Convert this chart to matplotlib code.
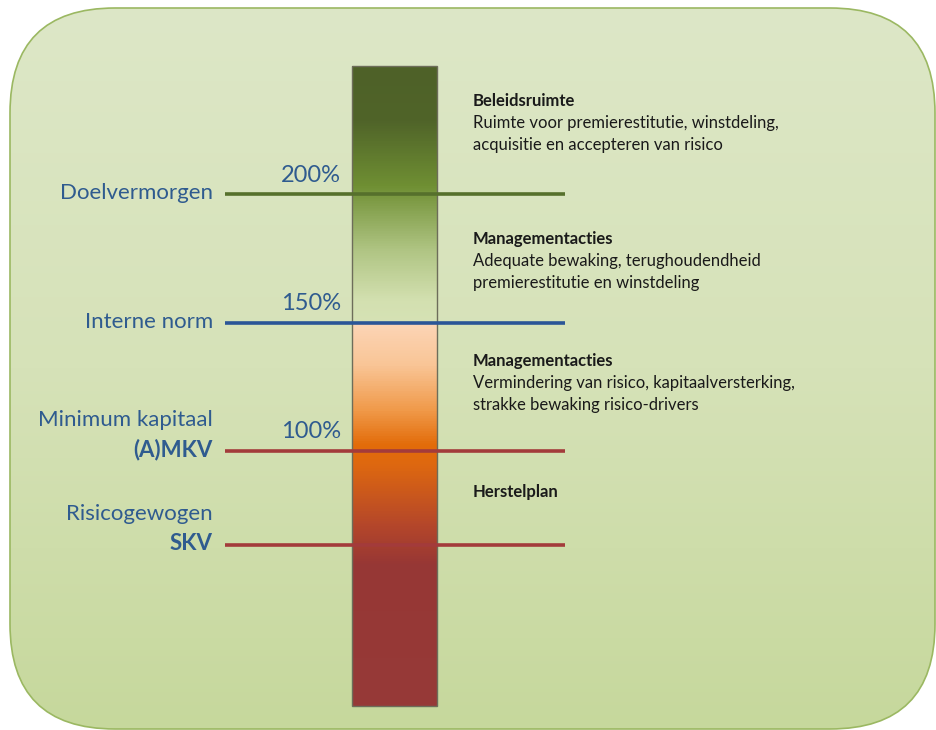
import matplotlib.pyplot as plt
import numpy as np
from matplotlib.colors import LinearSegmentedColormap
from matplotlib.patches import FancyBboxPatch, Rectangle

# Threshold levels (pixel rows in the drawing canvas) and their labels
levels = [194, 323, 451, 545]
level_colors = ["#56702c", "#2a5597", "#a33b3b", "#a33b3b"]
pct_labels = ["200%", "150%", "100%", ""]
left_titles = ["Doelvermorgen", "Interne norm", "Minimum kapitaal", "Risicogewogen"]
left_bold = ["", "", "(A)MKV", "SKV"]

# Zone descriptions on the right
zone_titles = ["Beleidsruimte", "Managementacties", "Managementacties", "Herstelplan"]
zone_texts = [
    "Ruimte voor premierestitutie, winstdeling,\nacquisitie en accepteren van risico",
    "Adequate bewaking, terughoudendheid\npremierestitutie en winstdeling",
    "Vermindering van risico, kapitaalversterking,\nstrakke bewaking risico-drivers",
    "",
]
zone_title_y = [101, 239, 361, 492]

# Colour stops along the thermometer bar (row, colour)
bar_stops = [(66, "#4e6128"), (120, "#506429"), (185, "#6f8f33"), (250, "#b0c584"),
             (300, "#d3e0b0"), (322, "#d6e2b5"), (324, "#fcd5b6"), (365, "#f9c596"),
             (410, "#f09a4a"), (445, "#e36c0a"), (465, "#de6810"), (525, "#b5472a"),
             (565, "#973735"), (706, "#963a38")]

W, H = 937, 730
fig = plt.figure(figsize=(W / 100, H / 100), dpi=100)
ax = fig.add_axes([0, 0, 1, 1])
ax.set_xlim(0, W)
ax.set_ylim(H, 0)
ax.axis("off")
fig.patch.set_facecolor("white")

# Rounded background panel with vertical gradient
panel = FancyBboxPatch((10, 8), 925, 721, boxstyle="round,pad=0,rounding_size=105",
                       facecolor="none", edgecolor="#9bb862", linewidth=1.2, zorder=2)
ax.add_patch(panel)
bg_cmap = LinearSegmentedColormap.from_list("bg", ["#dde7c7", "#d6e2b8", "#c6d89c"])
bg = ax.imshow(np.linspace(0, 1, 256).reshape(-1, 1), cmap=bg_cmap, aspect="auto",
               extent=(10, 935, 729, 8), zorder=1)
bg.set_clip_path(panel)

# Thermometer bar
top, bottom = bar_stops[0][0], bar_stops[-1][0]
pos = [(r - top) / (bottom - top) for r, _ in bar_stops]
bar_cmap = LinearSegmentedColormap.from_list("bar", list(zip(pos, [c for _, c in bar_stops])))
ax.imshow(np.linspace(0, 1, 512).reshape(-1, 1), cmap=bar_cmap, aspect="auto",
          extent=(352, 437, bottom, top), zorder=3)
ax.add_patch(Rectangle((352, top), 85, bottom - top, fill=False,
                       edgecolor="#6d6d5a", linewidth=1.0, zorder=4))

font = "Lato"
blue = "#2f5b8f"

for y, c, pct, title, bold in zip(levels, level_colors, pct_labels, left_titles, left_bold):
    ax.plot([225, 565], [y, y], color=c, linewidth=2.6, zorder=5, solid_capstyle="butt")
    if pct:
        ax.text(341, y - 19, pct, ha="right", va="center", fontsize=17,
                color=blue, family=font)
    if bold:
        ax.text(213, y - 31, title, ha="right", va="center", fontsize=16,
                color=blue, family=font)
        ax.text(213, y - 1, bold, ha="right", va="center", fontsize=16,
                color=blue, family=font, fontweight="bold")
    else:
        ax.text(213, y - 1, title, ha="right", va="center", fontsize=16,
                color=blue, family=font)

for ty, title, txt in zip(zone_title_y, zone_titles, zone_texts):
    ax.text(473, ty, title, ha="left", va="center", fontsize=12,
            color="#1a1a1a", family=font, fontweight="bold")
    if txt:
        ax.text(473, ty + 14, txt, ha="left", va="top", fontsize=12,
                color="#1a1a1a", family=font, linespacing=1.45)

fig.savefig("out.png", dpi=100)
